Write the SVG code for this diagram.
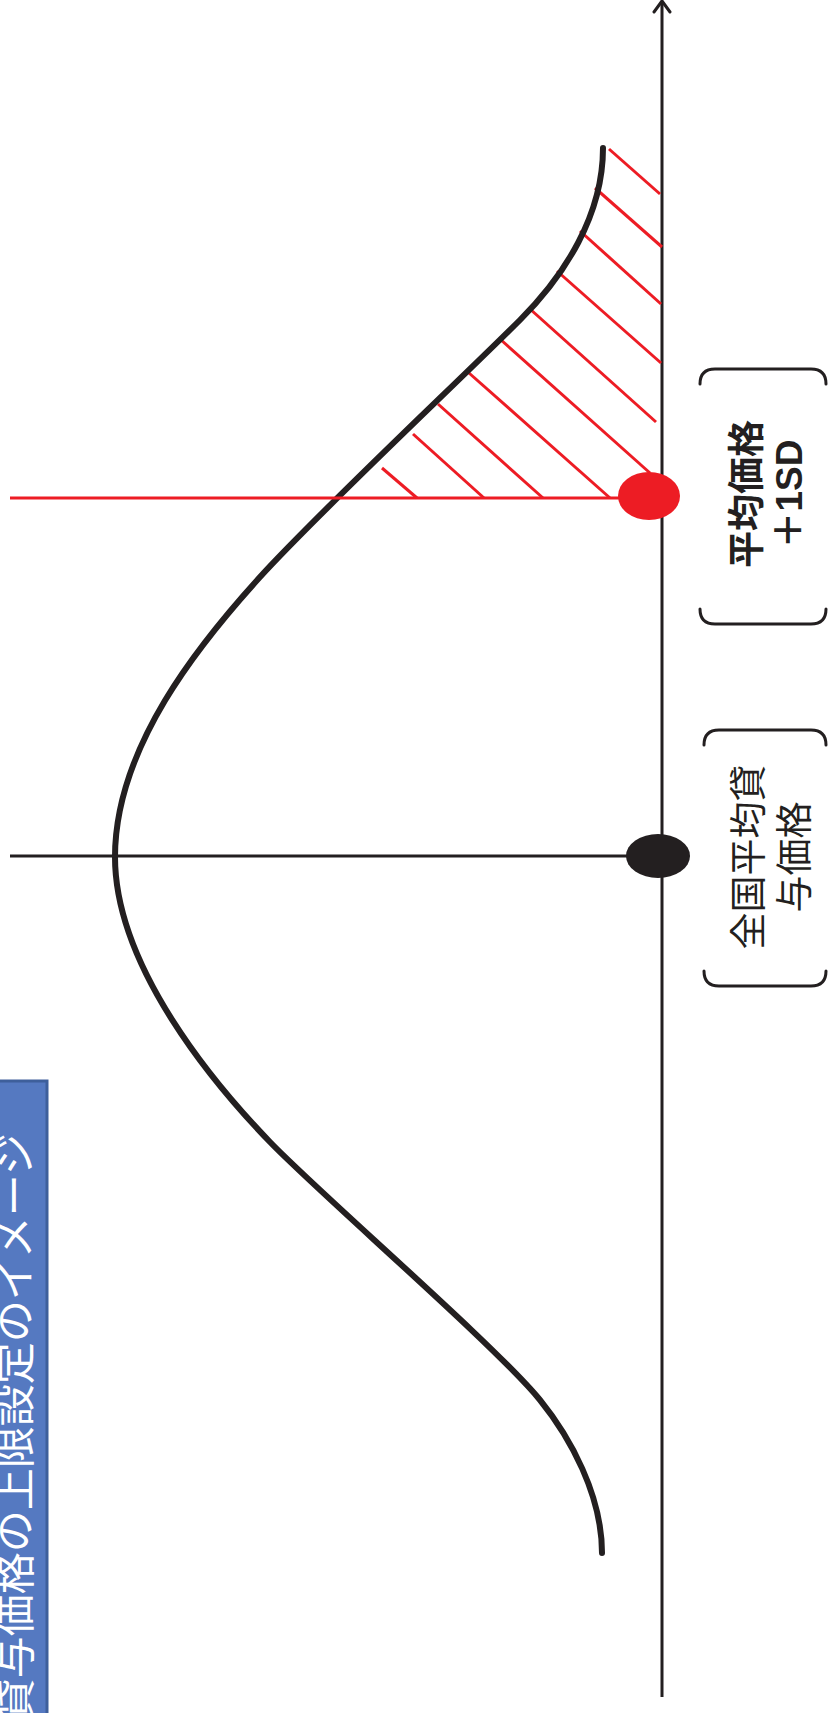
<svg xmlns="http://www.w3.org/2000/svg" width="828" height="1713" viewBox="0 0 828 1713">
<style>
.blk{stroke:#231F20;fill:none;stroke-width:3}
.red{stroke:#ED1C24;fill:none;stroke-width:3}
.brk{stroke:#231F20;fill:none;stroke-width:3;stroke-linecap:round}
.lbl{font-family:"Liberation Sans","Noto Sans CJK JP",sans-serif;fill:#231F20;text-anchor:middle}
.ttl{font-family:"Noto Sans CJK JP","Liberation Sans",sans-serif;fill:#FFFFFF;font-size:42px;text-anchor:end}
</style>
<rect x="0" y="0" width="828" height="1713" fill="#FFFFFF"/>
<g id="axis">
<line class="blk" x1="662" y1="2" x2="662" y2="1697"/>
<polyline class="blk" points="654,12 662,1 670,12" stroke-linejoin="round" stroke-linecap="round"/>
</g>
<g id="hatch">
<line class="red" x1="609" y1="149" x2="660" y2="194"/>
<line class="red" x1="595" y1="188" x2="662" y2="247"/>
<line class="red" x1="580" y1="231" x2="661" y2="304"/>
<line class="red" x1="557" y1="271" x2="661" y2="363"/>
<line class="red" x1="530" y1="309" x2="656" y2="422"/>
<line class="red" x1="500" y1="339" x2="650" y2="473"/>
<line class="red" x1="469" y1="373" x2="610" y2="498"/>
<line class="red" x1="438" y1="404" x2="543" y2="498"/>
<line class="red" x1="413" y1="434" x2="484" y2="498"/>
<line class="red" x1="382" y1="468" x2="417" y2="498"/>
</g>
<g id="curve">
<path d="M603,148 C603,215 565,275 520,320 C460,380 320,511 260,577 C200,643 115,747 115,857 C115,967 215,1085 270,1142 C320,1194 495,1345 540,1400 C570,1437 602,1495 602,1553" fill="none" stroke="#231F20" stroke-width="6" stroke-linecap="round"/>
</g>
<g id="connectors">
<line class="red" x1="10" y1="498" x2="640" y2="498"/>
<line class="blk" x1="10" y1="856" x2="650" y2="856"/>
</g>
<g id="node-plus1sd">
<ellipse cx="649" cy="496" rx="31" ry="24" fill="#ED1C24"/>
<path class="brk" d="M700,384 Q700,369 715,369 L811,369 Q826,369 826,384"/>
<path class="brk" d="M700,609 Q700,624 715,624 L811,624 Q826,624 826,609"/>
<text class="lbl" font-size="37" font-weight="bold" transform="translate(760,494) rotate(-90)">平均価格</text>
<text class="lbl" font-size="37" font-weight="bold" transform="translate(802,494) rotate(-90)">＋1SD</text>
</g>
<g id="node-mean">
<ellipse cx="658" cy="856" rx="32" ry="22" fill="#231F20"/>
<path class="brk" d="M704,745 Q704,730 719,730 L811,730 Q826,730 826,745"/>
<path class="brk" d="M704,971 Q704,986 719,986 L811,986 Q826,986 826,971"/>
<text class="lbl" font-size="37" transform="translate(762,857) rotate(-90)">全国平均貸</text>
<text class="lbl" font-size="37" transform="translate(808,857) rotate(-90)">与価格</text>
</g>
<g id="title">
<rect x="-3" y="1081" width="50" height="640" fill="#5579C1" stroke="#3E5F9B" stroke-width="3"/>
<text class="ttl" transform="translate(30,1133) rotate(-90)">貸与価格の上限設定のイメージ</text>
</g>
</svg>
